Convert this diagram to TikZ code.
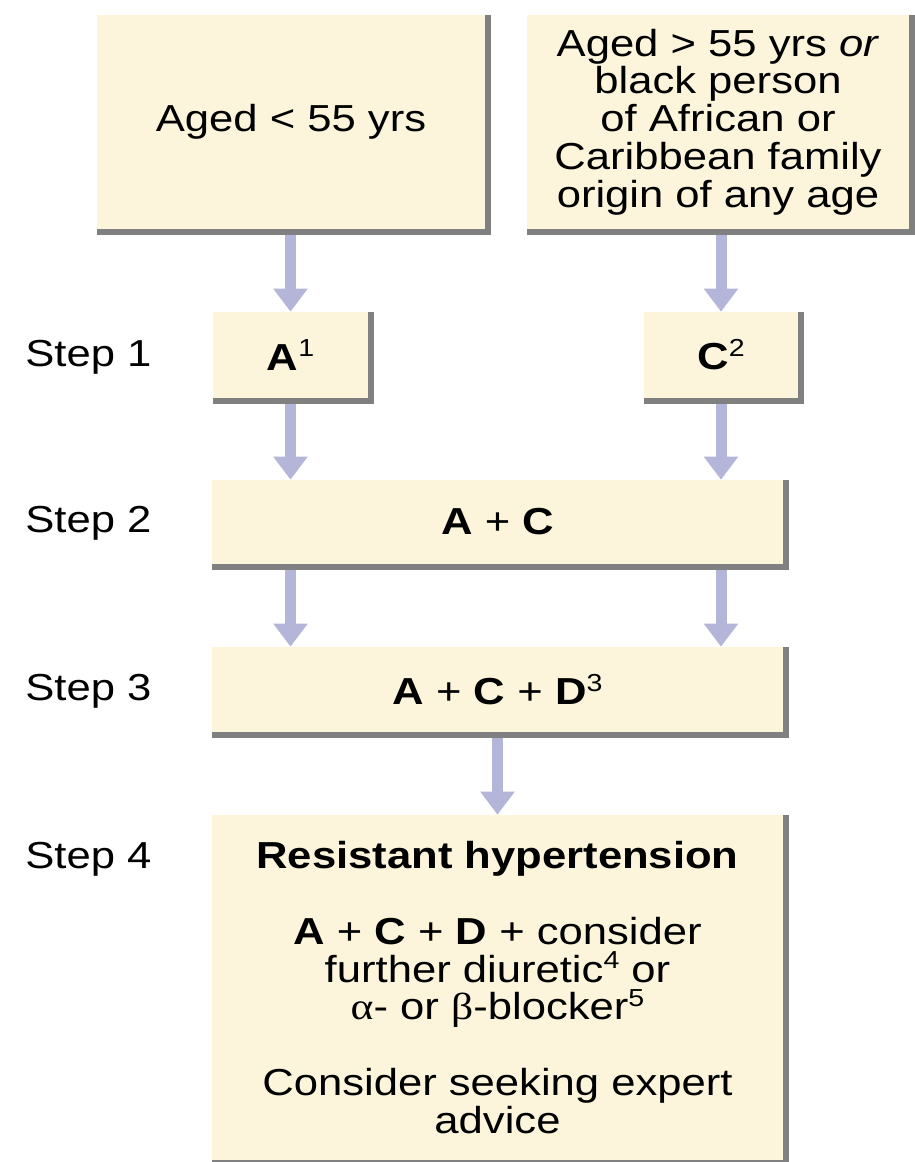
\documentclass[tikz,border=0pt]{standalone}
\usepackage{fontspec}
\setmainfont[FakeStretch=1.16]{Liberation Sans}
\newfontfamily\greekserif[FakeStretch=1.16]{Liberation Serif}
\usepackage{xcolor}
\usetikzlibrary{positioning, arrows.meta}

\definecolor{creamfill}{HTML}{FCF5DC}
\definecolor{lavender}{HTML}{B3B5D9}
\definecolor{shadowgray}{HTML}{808080}
\newcommand{\supnum}[1]{\raisebox{7.5pt}{\fontsize{14}{14}\selectfont\mdseries #1}}

\begin{document}
\begin{tikzpicture}[
    x=0.02cm, y=-0.02cm,
    stepbox/.style={
        rectangle,
        inner sep=0pt,
        align=center,
        fill=creamfill,
        font=\fontsize{21.4}{21.5}\selectfont
    },
    steplabel/.style={
        anchor=base west,
        inner sep=0pt,
        font=\fontsize{21.4}{21.5}\selectfont
    },
    arrow/.style={draw=lavender, line width=0.22cm,
        -{Triangle[width=0.66cm, length=0.46cm, fill=lavender]}},
    shadowline/.style={draw=shadowgray, line width=0.11cm}
]
\useasboundingbox (0,0) rectangle (915,1162);

% Nodes
\node (aged) [stepbox, minimum width=7.76cm, minimum height=4.28cm] at (291,122) {Aged < 55 yrs};
\node (old) [stepbox, minimum width=7.64cm, minimum height=4.28cm] at (718,122)
    {Aged > 55 yrs \textit{or}\\black person\\of African or\\Caribbean family\\origin of any age};
\node (a) [stepbox, minimum width=3.1cm, minimum height=1.72cm] at (290.5,355) {\textbf{A}\supnum{1}};
\node (c) [stepbox, minimum width=3.08cm, minimum height=1.72cm] at (721,355) {\textbf{C}\supnum{2}};
\node (ac) [stepbox, minimum width=11.42cm, minimum height=1.68cm] at (497.5,522) {\textbf{A} + \textbf{C}};
\node (acd) [stepbox, minimum width=11.42cm, minimum height=1.7cm] at (497.5,689.5) {\textbf{A} + \textbf{C} + \textbf{D}\supnum{3}};
\node (resist) [stepbox, minimum width=11.42cm, minimum height=6.9cm] at (497.5,987.5)
    {\textbf{Resistant hypertension}\\~\\\textbf{A} + \textbf{C} + \textbf{D} + consider\\further diuretic\supnum{4} or\\{\greekserif α}- or {\greekserif β}-blocker\supnum{5}\\~\\Consider seeking expert\\advice};

% Step labels
\node (s1) [steplabel] at (25,366) {Step 1};
\node (s2) [steplabel] at (25,532) {Step 2};
\node (s3) [steplabel] at (25,700) {Step 3};
\node (s4) [steplabel] at (25,868) {Step 4};

% Arrows
\draw [arrow] (a.north |- aged.south) -- (a.north);
\draw [arrow] (c.north |- old.south) -- (c.north);
\draw [arrow] (a.south) -- (a.south |- ac.north);
\draw [arrow] (c.south) -- (c.south |- ac.north);
\draw [arrow] (ac.south -| a) -- (acd.north -| a);
\draw [arrow] (ac.south -| c) -- (acd.north -| c);
\draw [arrow] (acd.south) -- (resist.north);

% Shadows
\foreach \n in {aged,old,a,c,ac,acd,resist}
    \draw [shadowline] ([xshift=0.055cm]\n.north east) |- ([yshift=-0.055cm]\n.south west);

\end{tikzpicture}
\end{document}
